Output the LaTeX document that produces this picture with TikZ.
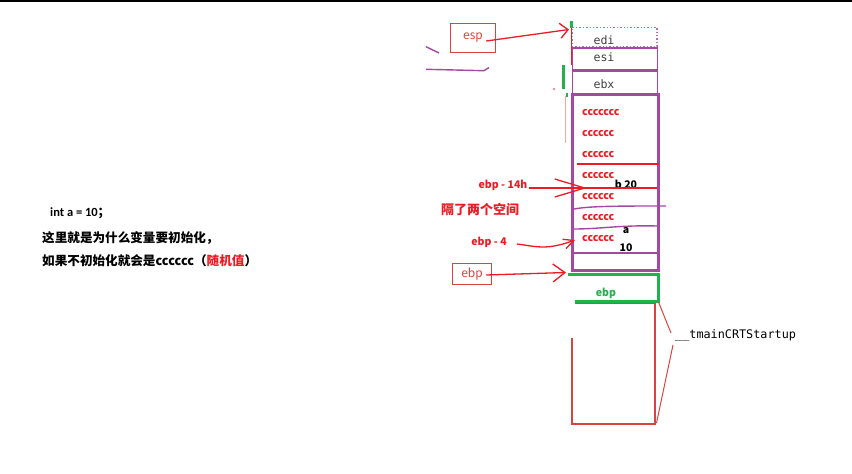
\documentclass[tikz,border=0pt]{standalone}
\usepackage{fontspec}
\setmainfont{Carlito}
\setmonofont{DejaVu Sans Mono}
\newfontfamily\cjk{Noto Sans CJK SC}
\usetikzlibrary{arrows.meta}
\definecolor{pred}{HTML}{ED1C24}
\definecolor{bred}{HTML}{D9453D}
\definecolor{ppurple}{HTML}{A349A4}
\definecolor{pgreen}{HTML}{22B14C}

\begin{document}
\begin{tikzpicture}[x=1pt, y=-1pt,
  slot/.style={draw=ppurple, line width=1.4pt, inner sep=0pt, minimum width=85pt},
  regbox/.style={draw=bred, line width=1.5pt, inner sep=0pt, text=bred,
                 font=\cjk\fontsize{12}{14}\selectfont},
  reg/.style={inner sep=0pt, text=black!75, font=\ttfamily\fontsize{11.6}{14}\selectfont},
  cell/.style={anchor=west, inner sep=0pt, text=pred, font=\cjk\bfseries\fontsize{10.5}{12}\selectfont},
  note/.style={inner sep=0pt, text=pred, font=\cjk\bfseries\fontsize{10.5}{12}\selectfont},
  val/.style={inner sep=0pt, font=\cjk\bfseries\fontsize{10.5}{12}\selectfont},
  sep/.style={draw=ppurple, line width=1.4pt},
  arr/.style={draw=pred, line width=1.3pt}]

  \useasboundingbox (0,0) rectangle (852,474);
  \draw[line width=2pt] (0,1) -- (852,1);

  % explanation on the left
  \node[anchor=west, inner sep=0pt, font=\bfseries\fontsize{12.5}{14}\selectfont] (decl) at (50,213) {int a = 10\cjk ；};
  \node[anchor=west, inner sep=0pt, font=\cjk\bfseries\fontsize{12.6}{15}\selectfont] (why) at (42,238) {这里就是为什么变量要初始化，};
  \node[anchor=west, inner sep=0pt, font=\cjk\bfseries\fontsize{12.6}{15}\selectfont] (rand) at (42,261) {如果不初始化就会是cccccc（\textcolor{pred}{随机值}）};

  % saved registers on top of the frame
  \node[slot, draw=ppurple!80, dotted, minimum height=19pt] (edi) at (614.5,37) {};
  \node[slot, minimum height=22pt] (esi) at (614.8,59) {};
  \node[slot, minimum height=23pt] (ebx) at (615.2,82.5) {};
  \node[reg] (tedi) at (604,40) {edi};
  \node[reg] (tesi) at (604,57) {esi};
  \node[reg] (tebx) at (604,84) {ebx};

  % main's frame (cc-filled locals)
  \node[draw=ppurple, line width=3pt, inner sep=0pt, minimum width=86pt, minimum height=176pt] (frame) at (615.7,182) {};
  \node[cell] (c1) at (582,113) {ccccccc};
  \node[cell] (c2) at (582,134) {cccccc};
  \node[cell] (c3) at (582,155) {cccccc};
  \node[cell] (c4) at (582,176) {cccccc};
  \node[cell] (c5) at (582,197) {cccccc};
  \node[cell] (c6) at (582,218) {cccccc};
  \node[cell] (c7) at (582,239) {cccccc};
  \node[val] (b) at (626,184) {b 20};
  \node[val] (a) at (626,231) {a};
  \node[val] (ten) at (626,248) {10};

  \draw[pred, line width=1.4pt] (577,164) -- (659,164);
  \draw[sep] (574,209) .. controls (590,206) and (620,206) .. (666,206);
  \draw[sep] (574,229) .. controls (600,229) and (620,225) .. (657,226);
  \draw[sep] (574,253) -- (657,253);

  % caller's ebp and __tmainCRTStartup
  \draw[pgreen, line width=3pt] (568,274.5) -- (658.5,274.5) -- (658.5,301.5) -- (575,301.5);
  \node[val, text=pgreen] (gebp) at (606,293) {ebp};
  \draw[bred, line width=1.5pt] (575,303.5) -- (655,303.5) -- (655,424) -- (572,424) -- (572,338);
  \node[anchor=west, inner sep=0pt, font=\ttfamily\fontsize{11.8}{14}\selectfont] (crt) at (675,335) {\_\_tmainCRTStartup};
  \draw[bred, line width=1pt] (658.5,302) -- ([xshift=-4pt,yshift=2pt]crt.west);
  \draw[bred, line width=1pt] ([xshift=-2pt,yshift=-10pt]crt.west) -- (656.5,423);

  % pointers
  \node[regbox, minimum width=45pt, minimum height=29pt] (esp) at (473,38) {esp};
  \node[regbox, minimum width=39pt, minimum height=21pt] (ebp) at (472,274) {ebp};
  \node[note] (e14) at (503,185) {ebp - 14h};
  \node[note, font=\cjk\bfseries\fontsize{13}{15}\selectfont] (gap) at (480,210) {隔了两个空间};
  \node[note] (e4) at (489,242) {ebp - 4};

  \coordinate (esptop) at (569,29.5);
  \coordinate (ebptop) at (566,272.5);
  \coordinate (b14) at (587,188);
  \coordinate (a4) at (575,240);

  \draw[arr, -{Straight Barb[length=8pt, width=15pt]}] ([xshift=-10pt,yshift=-3pt]esp.east) -- (esptop);
  \draw[arr, -{Straight Barb[length=12pt, width=18pt]}] ([xshift=-6pt,yshift=-1pt]ebp.east) -- (ebptop);
  \draw[arr] ([xshift=1pt,yshift=-3pt]e14.east) -- (657,188);
  \draw[arr, -{Straight Barb[length=30pt, width=18pt]}] ([xshift=1pt,yshift=-3pt]e14.east) -- (b14);
  \draw[arr, -{Straight Barb[length=10pt, width=10pt]}] ([xshift=10pt,yshift=-2pt]e4.east) .. controls (535,246) and (545,251) .. (a4);

  % stray marks
  \fill[pgreen] (569.5,21) rectangle (572.5,28);
  \fill[pgreen] (562,65) rectangle (565,89);
  \fill[pgreen] (566,92.5) rectangle (568,97);
  \draw[pred, line width=1pt] (571.5,28) -- (571.5,65);
  \draw[pred!40, line width=1pt] (565.7,96) -- (565.7,143);
  \fill[pred] (554,89) circle (0.8pt);
  \draw[ppurple, line width=1.4pt] (426,46.7) -- (439,53);
  \draw[ppurple, line width=1.4pt] (426,69.3) -- (484,70.7) -- (489,67.5);
\end{tikzpicture}
\end{document}
